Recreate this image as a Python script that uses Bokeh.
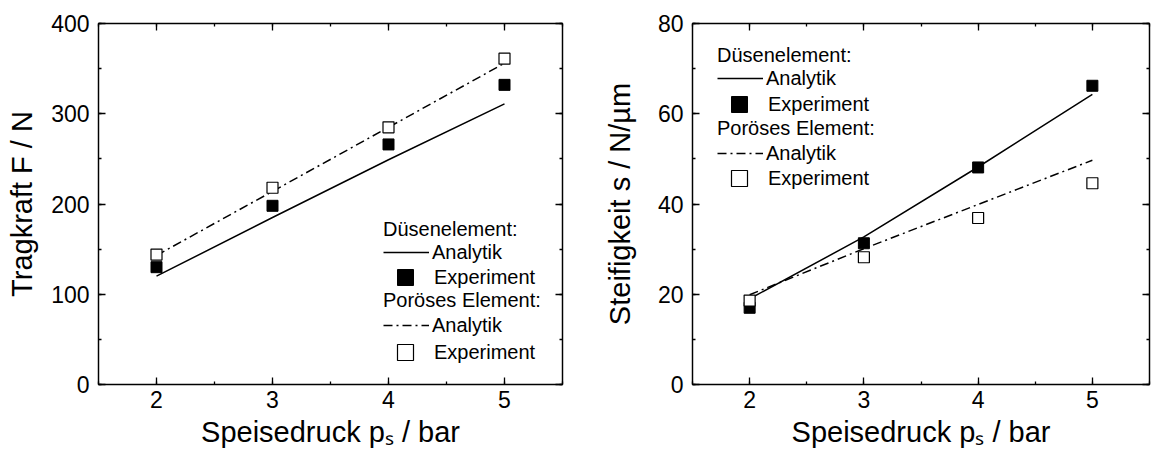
from bokeh.plotting import figure
from bokeh.models import (LinearAxis, SingleIntervalTicker, Range1d, Legend,
                          LegendItem, CustomJSTickFormatter)
from bokeh.layouts import row
from bokeh.embed import file_html
from bokeh.resources import INLINE

# ---------------- data ----------------
pressure = [2, 3, 4, 5]

force_nozzle_analytic = [120, 185, 249, 311]
force_nozzle_experiment = [130, 198, 266, 332]
force_porous_analytic = [143, 214, 285, 356]
force_porous_experiment = [144, 218, 285, 361]

stiff_nozzle_analytic = [19.0, 32.7, 48.2, 64.3]
stiff_nozzle_experiment = [17.0, 31.3, 48.1, 66.2]
stiff_porous_analytic = [19.9, 30.1, 39.9, 49.7]
stiff_porous_experiment = [18.6, 28.2, 36.9, 44.6]

x_label = "Speisedruck p\u209b / bar"
force_label = "Tragkraft F / N"
stiff_label = "Steifigkeit s / N/\u00b5m"
head_nozzle = "D\u00fcsenelement:"
head_porous = "Por\u00f6ses Element:"
label_analytic = "Analytik"
label_experiment = "Experiment"

# ---------------- style ----------------
FONT = "Liberation Sans"
H = 457
BORDER_TOP = 23
BORDER_BOTTOM = 73
FRAME_H = H - BORDER_TOP - BORDER_BOTTOM
DASHDOT = "9 4 2 4"
LABEL_H = 24


def add_legend_row(p, label, renderer, kind, left, center):
    if kind == "head":
        gw, gh, so, dx = 0, LABEL_H, 0, 0
    elif kind == "line":
        gw, gh, so, dx = 46, LABEL_H, 3, 0
    else:
        gw, gh, so, dx = 40, 40, 9, 2
    h = max(gh, LABEL_H)
    bottom = FRAME_H - center - h / 2.0
    leg = Legend(items=[LegendItem(label=label, renderers=[renderer])],
                 location=(left + dx, bottom),
                 glyph_width=gw, glyph_height=gh, label_height=LABEL_H,
                 label_standoff=so, padding=0, margin=0, spacing=0,
                 border_line_color=None, background_fill_alpha=0,
                 label_text_font=FONT, label_text_font_size="20px",
                 label_text_color="black")
    p.add_layout(leg)


def make_panel(width, border_left, border_right, y_end, y_step, ylabel,
               ylabel_standoff, na, ne, pa, pe, leg_left, leg_centers):
    p = figure(width=width, height=H, x_range=Range1d(1.5, 5.5),
               y_range=Range1d(0, y_end), output_backend="svg",
               toolbar_location=None, x_axis_type=None, y_axis_type=None,
               min_border_left=border_left, min_border_right=border_right,
               min_border_top=BORDER_TOP, min_border_bottom=BORDER_BOTTOM)
    p.outline_line_color = "black"
    p.outline_line_width = 1.2
    p.background_fill_color = "white"
    p.border_fill_color = "white"

    xt = SingleIntervalTicker(interval=1, num_minor_ticks=2)
    yt = SingleIntervalTicker(interval=y_step, num_minor_ticks=2)
    for loc, ticker, labeled in [("below", xt, True), ("above", xt, False),
                                 ("left", yt, True), ("right", yt, False)]:
        ax = LinearAxis(ticker=ticker)
        ax.major_tick_in = 7
        ax.major_tick_out = 0
        ax.minor_tick_in = 3
        ax.minor_tick_out = 0
        ax.axis_line_color = "black"
        ax.axis_line_width = 1.3
        ax.major_tick_line_color = "black"
        ax.major_tick_line_width = 1.3
        ax.minor_tick_line_color = "black"
        ax.minor_tick_line_width = 1.3
        if labeled:
            ax.major_label_text_font = FONT
            ax.major_label_text_font_size = "23px"
            ax.major_label_text_color = "black"
            ax.axis_label_text_font = FONT
            ax.axis_label_text_font_size = "29px"
            ax.axis_label_text_font_style = "normal"
            ax.axis_label_text_color = "black"
            if loc == "below":
                ax.axis_label = x_label
                ax.major_label_standoff = 6
                ax.axis_label_standoff = 5
            else:
                ax.axis_label = ylabel
                ax.major_label_standoff = 9
                ax.axis_label_standoff = ylabel_standoff
        else:
            ax.formatter = CustomJSTickFormatter(code="return ''")
            ax.major_label_standoff = 0
        p.add_layout(ax, loc)

    r_na = p.line(pressure, na, line_color="black", line_width=1.5)
    r_pa = p.line(pressure, pa, line_color="black", line_width=1.5,
                  line_dash=DASHDOT)
    r_ne = p.scatter(pressure, ne, marker="square", size=11,
                     fill_color="black", line_color="black")
    r_pe = p.scatter(pressure, pe, marker="square", size=11,
                     fill_color="white", line_color="black", line_width=1.2)

    rows = [(head_nozzle, r_na, "head"), (label_analytic, r_na, "line"),
            (label_experiment, r_ne, "marker"), (head_porous, r_pa, "head"),
            (label_analytic, r_pa, "line"), (label_experiment, r_pe, "marker")]
    for (lab, r, kind), c in zip(rows, leg_centers):
        add_legend_row(p, lab, r, kind, leg_left, c)
    return p


p1 = make_panel(600, 98, 38, 400, 100, force_label, 10,
                force_nozzle_analytic, force_nozzle_experiment,
                force_porous_analytic, force_porous_experiment,
                285, [206, 229, 254, 277, 302, 329])
p2 = make_panel(551, 91, 2, 80, 20, stiff_label, 19,
                stiff_nozzle_analytic, stiff_nozzle_experiment,
                stiff_porous_analytic, stiff_porous_experiment,
                25, [32, 55, 81, 105, 130, 155])

layout = row(p1, p2)
open("out.html", "w").write(file_html(layout, INLINE))
